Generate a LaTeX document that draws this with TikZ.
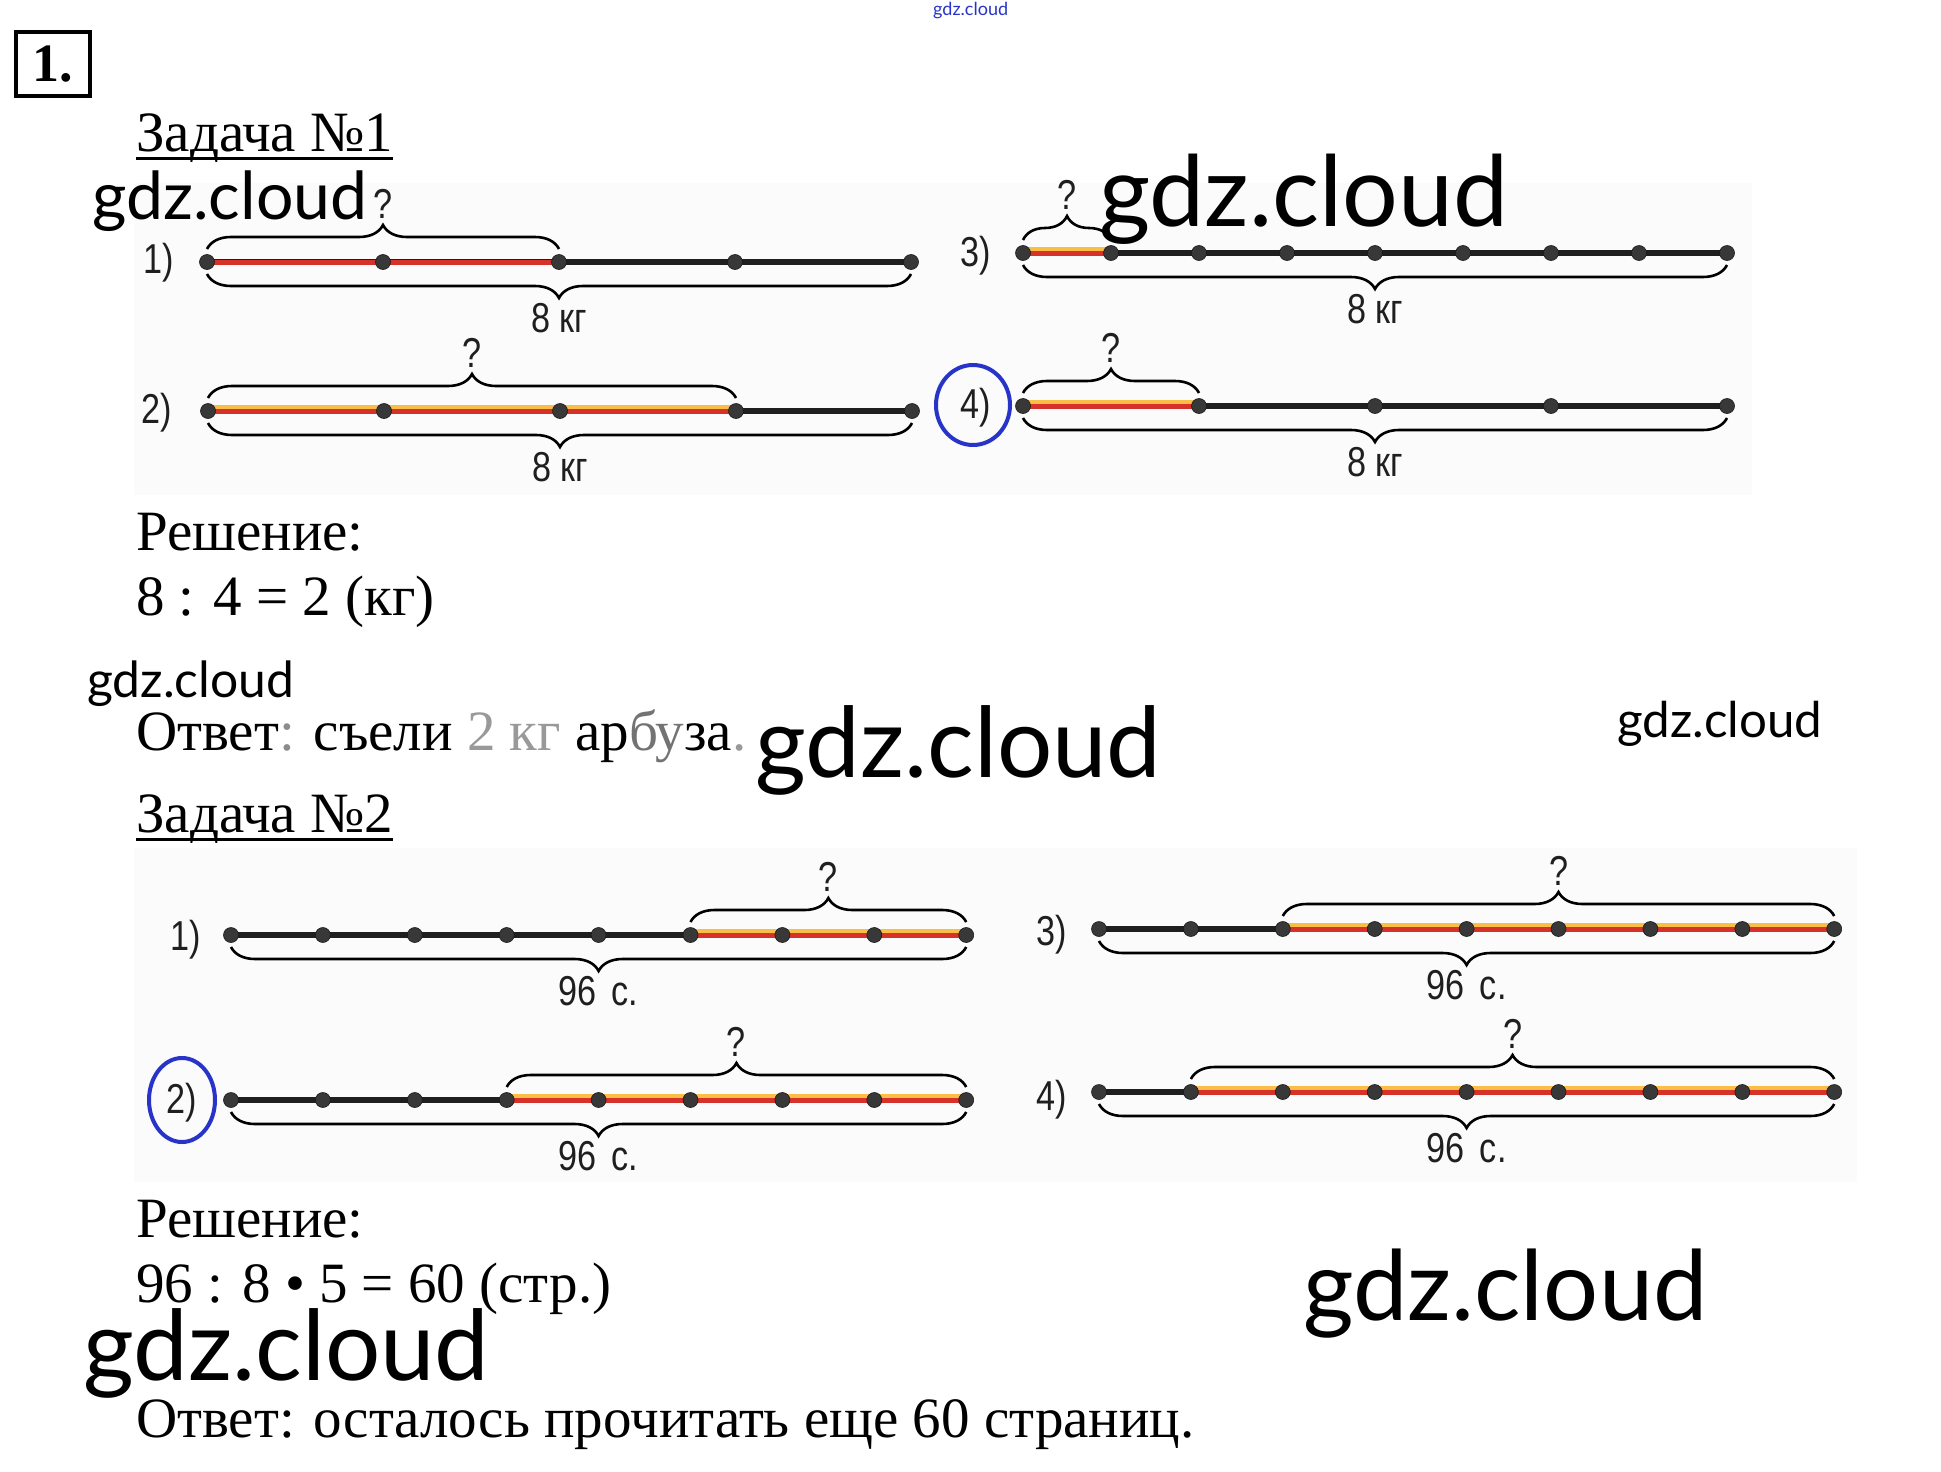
\documentclass[tikz,border=0pt]{standalone}
\usepackage{fontspec}
\setmainfont{Liberation Serif}
\newfontfamily\labelfont{Liberation Sans}
\newfontfamily\wmfont{Lato}
\usetikzlibrary{decorations.pathreplacing,shapes.geometric}
\definecolor{markblue}{RGB}{40,52,200}
\definecolor{lnred}{RGB}{215,50,42}
\definecolor{lnglow}{RGB}{250,190,70}
\newcommand{\narrow}[1]{\scalebox{0.9}[1.1]{#1}}
\tikzset{
  blackline/.style={line width=6pt, draw=black!88, line cap=round},
  redglow/.style={line width=8.5pt, draw=lnglow},
  redline/.style={line width=5pt, draw=lnred},
  dot/.style={circle, fill=black!78, draw=black!90, line width=0.6pt, minimum size=15pt, inner sep=0pt},
  topbrace/.style={decorate, decoration={brace, amplitude=24pt}, line width=2.6pt},
  botbrace/.style={decorate, decoration={brace, amplitude=24pt, mirror}, line width=2.6pt},
  lbl/.style={font=\labelfont\fontsize{38}{42}\selectfont, inner sep=0pt, text=black!88},
  body/.style={font=\fontsize{57}{68}\selectfont, anchor=base west, inner sep=0pt},
  wm/.style={font=\wmfont, anchor=base west, inner sep=0pt},
  ring/.style={draw=markblue, line width=4pt, ellipse, inner sep=0pt},
  panel/.style={fill=black!1.5, draw=none},
}
% #1 prefix, #2 y, #3 x0, #4 step, #5 last index, #6 red from, #7 red to, #8 glow (1/0)
\newcommand{\numline}[8]{%
  \foreach \i in {0,...,#5} { \coordinate (#1c\i) at ({#3+\i*#4},#2); }
  \draw[blackline] (#1c0) -- (#1c#5);
  \ifnum#8=1 \draw[redglow] ([yshift=1.5pt]#1c#6) -- ([yshift=1.5pt]#1c#7);\fi
  \draw[redline] (#1c#6) -- (#1c#7);
  \foreach \i in {0,...,#5} { \node[dot] (#1d\i) at (#1c\i) {}; }
}
% #1 prefix, #2 from, #3 to
\newcommand{\topq}[3]{%
  \draw[topbrace] ([yshift=13pt]#1c#2) -- ([yshift=13pt]#1c#3)
    node[midway, yshift=29pt, lbl, anchor=south] (#1q) {\narrow{?}};
}
% #1 prefix, #2 from, #3 to, #4 label
\newcommand{\botl}[4]{%
  \draw[botbrace] ([yshift=-12pt]#1c#2) -- ([yshift=-12pt]#1c#3)
    node[midway, yshift=-28pt, lbl, anchor=north] (#1v) {\narrow{#4}};
}
\begin{document}
\begin{tikzpicture}[x=1pt, y=-1pt]
\useasboundingbox (0,0) rectangle (1941,1472);
\fill[white] (0,0) rectangle (1941,1472);
\fill[panel] (134,183) rectangle (1752,495);
\fill[panel] (134,848) rectangle (1857,1182);

% header box
\node[draw, line width=4pt, minimum width=74pt, minimum height=64pt, inner sep=0pt,
      font=\bfseries\fontsize{54}{60}\selectfont] (num) at (53,64) {1.};

% tiny blue watermark
\node[wm, text=markblue] (wmtiny) at (933,16) {\resizebox{75pt}{!}{gdz.cloud}};

% ---------- Task 1 ----------
\node[body] (t1) at (136,151) {Задача №1};
\draw[line width=3pt] ([yshift=-7pt]t1.base west) -- ([yshift=-7pt]t1.base east);

\numline{A}{262}{207}{176}{4}{0}{2}{0}
\topq{A}{0}{2}
\botl{A}{0}{4}{8 кг}
\node[lbl] (Al) at (159,263) {\narrow{1)}};

\numline{B}{411}{208}{176}{4}{0}{3}{1}
\topq{B}{0}{3}
\botl{B}{0}{4}{8 кг}
\node[lbl] (Bl) at (157,413) {\narrow{2)}};

\numline{C}{253}{1023}{88}{8}{0}{1}{1}
\topq{C}{0}{1}
\botl{C}{0}{8}{8 кг}
\node[lbl] (Cl) at (976,256) {\narrow{3)}};

\numline{D}{406}{1023}{176}{4}{0}{1}{1}
\topq{D}{0}{1}
\botl{D}{0}{4}{8 кг}
\node[lbl] (Dl) at (976,408) {\narrow{4)}};
\node[ring, minimum width=74pt, minimum height=80pt] (Dr) at (973,405) {};

\node[body] (s1) at (136,550) {Решение:};
\node[body] (e1) at (136,615) {8 : 4 = 2 (кг)};
\node[body] (a1) at (136,750) {Ответ\textcolor{black!45}{:} съели \textcolor{black!40}{2 кг} ар\textcolor{black!55}{бу}за\textcolor{black!40}{.}};

% ---------- Task 2 ----------
\node[body] (t2) at (136,832) {Задача №2};
\draw[line width=3pt] ([yshift=-7pt]t2.base west) -- ([yshift=-7pt]t2.base east);

\numline{E}{935}{231}{91.9}{8}{5}{8}{1}
\topq{E}{5}{8}
\botl{E}{0}{8}{96\, с.}
\node[lbl] (El) at (186,940) {\narrow{1)}};

\numline{F}{1100}{231}{91.9}{8}{3}{8}{1}
\topq{F}{3}{8}
\botl{F}{0}{8}{96\, с.}
\node[lbl] (Fl) at (182,1103) {\narrow{2)}};
\node[ring, minimum width=66pt, minimum height=84pt] (Fr) at (182,1100) {};

\numline{G}{929}{1099}{91.9}{8}{2}{8}{1}
\topq{G}{2}{8}
\botl{G}{0}{8}{96\, с.}
\node[lbl] (Gl) at (1052,935) {\narrow{3)}};

\numline{H}{1092}{1099}{91.9}{8}{1}{8}{1}
\topq{H}{1}{8}
\botl{H}{0}{8}{96\, с.}
\node[lbl] (Hl) at (1052,1100) {\narrow{4)}};

\node[body] (s2) at (136,1237) {Решение:};
\node[body] (e2) at (136,1302) {96 : 8 • 5 = 60 (стр.)};
\node[body] (a2) at (136,1437) {Ответ: осталось прочитать еще 60 страниц.};

% ---------- watermarks ----------
\node[wm] (w1) at (92,219) {\resizebox{275pt}{!}{gdz.cloud}};
\node[wm] (w2) at (1099,226) {\resizebox{409pt}{!}{gdz.cloud}};
\node[wm] (w3) at (87,697) {\resizebox{207pt}{!}{gdz.cloud}};
\node[wm] (w4) at (755,777) {\resizebox{406pt}{!}{gdz.cloud}};
\node[wm] (w5) at (1617,737) {\resizebox{205pt}{!}{gdz.cloud}};
\node[wm] (w6) at (1303,1320) {\resizebox{404pt}{!}{gdz.cloud}};
\node[wm] (w7) at (83,1380) {\resizebox{406pt}{!}{gdz.cloud}};
\end{tikzpicture}
\end{document}
